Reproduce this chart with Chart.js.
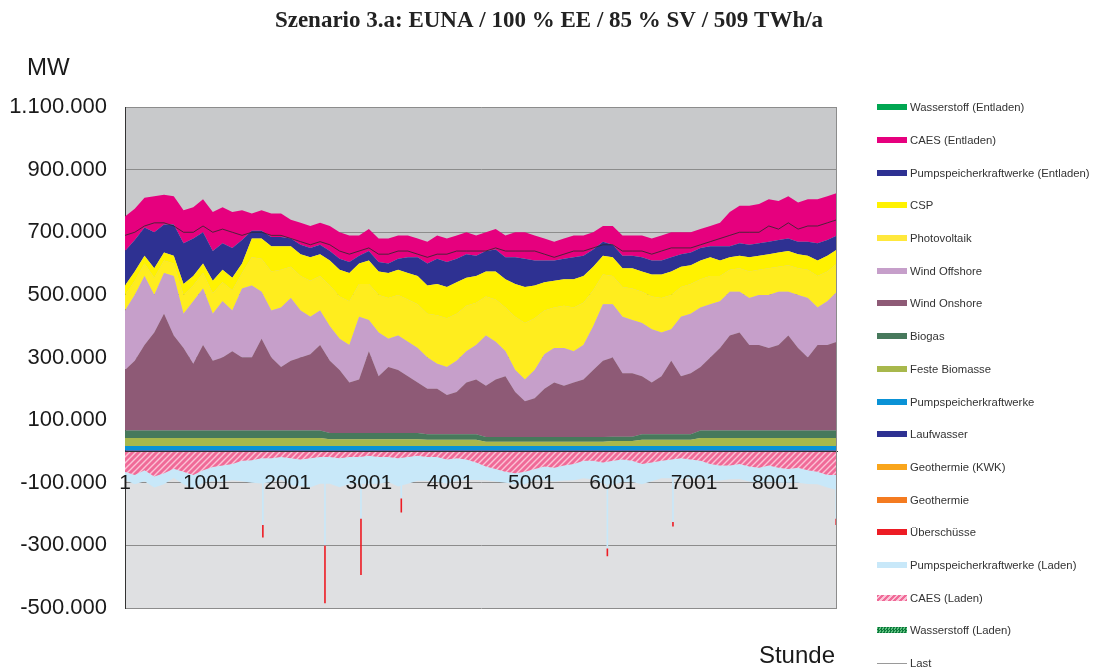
<!DOCTYPE html>
<html lang="de">
<head>
<meta charset="utf-8">
<title>Szenario 3.a</title>
<script src="https://cdn.jsdelivr.net/npm/chart.js@4.4.1/dist/chart.umd.min.js"></script>
<style>
  html, body { margin: 0; padding: 0; background: #fff; }
  #wrap { position: relative; width: 1098px; height: 671px; }
  #legend { position: absolute; left: 877px; top: 91px; font: 11.3px "Liberation Sans", Arial, sans-serif; color: #333; }
  .item { height: 32.7px; display: flex; align-items: center; white-space: nowrap; }
  .swatch { width: 30px; height: 6px; margin-right: 3px; flex: none; }
</style>
</head>
<body>
<div id="wrap">
  <canvas id="chart" width="1098" height="671"></canvas>
  <div id="legend"></div>
</div>
<script>
// hour of the year for each sample (every 120 h)
const hours = [1, 121, 241, 361, 481, 601, 721, 841, 961, 1081, 1201, 1321, 1441, 1561, 1681, 1801, 1921, 2041, 2161, 2281,
  2401, 2521, 2641, 2761, 2881, 3001, 3121, 3241, 3361, 3481, 3601, 3721, 3841, 3961, 4081, 4201, 4321, 4441, 4561, 4681,
  4801, 4921, 5041, 5161, 5281, 5401, 5521, 5641, 5761, 5881, 6001, 6121, 6241, 6361, 6481, 6601, 6721, 6841, 6961, 7081,
  7201, 7321, 7441, 7561, 7681, 7801, 7921, 8041, 8161, 8281, 8401, 8521, 8641, 8760];
const tickHours = [1, 1001, 2001, 3001, 4001, 5001, 6001, 7001, 8001];

// values in 1000 MW
const laufwasser = [3, 3, 3, 3, 3, 3, 3, 3, 3, 3, 3, 3, 3, 3, 3, 3, 3, 3, 3, 3, 3, 3, 3, 3, 3, 3, 3, 3, 3, 3, 3, 3, 3, 3, 3, 3, 3,
  3, 3, 3, 3, 3, 3, 3, 3, 3, 3, 3, 3, 3, 3, 3, 3, 3, 3, 3, 3, 3, 3, 3, 3, 3, 3, 3, 3, 3, 3, 3, 3, 3, 3, 3, 3, 3];
const pumpspeicher = [14, 14, 14, 14, 14, 14, 14, 14, 14, 14, 14, 14, 14, 14, 14, 14, 14, 14, 14, 14, 14, 14, 14, 14, 14, 14,
  14, 14, 14, 14, 14, 14, 14, 14, 14, 14, 14, 14, 14, 14, 14, 14, 14, 14, 14, 14, 14, 14, 14, 14, 14, 14, 14, 14, 14, 14, 14,
  14, 14, 14, 14, 14, 14, 14, 14, 14, 14, 14, 14, 14, 14, 14, 14, 14];
const festeBiomasse = [26, 26, 26, 26, 26, 26, 26, 26, 26, 26, 26, 26, 26, 26, 26, 26, 26, 26, 26, 26, 26, 22, 22, 22, 22, 22,
  22, 22, 22, 22, 22, 20, 20, 20, 20, 20, 20, 14, 14, 14, 14, 14, 14, 14, 14, 14, 14, 14, 14, 14, 16, 16, 16, 20, 20, 20, 20,
  20, 20, 26, 26, 26, 26, 26, 26, 26, 26, 26, 26, 26, 26, 26, 26, 26];
const biogas = [24, 24, 24, 24, 24, 24, 24, 24, 24, 24, 24, 24, 24, 24, 24, 24, 24, 24, 24, 24, 24, 20, 20, 20, 20, 20, 20, 20,
  20, 20, 20, 18, 18, 18, 18, 18, 18, 15, 15, 15, 15, 15, 15, 15, 15, 15, 15, 15, 15, 15, 14, 14, 14, 18, 18, 18, 18, 18, 18,
  24, 24, 24, 24, 24, 24, 24, 24, 24, 24, 24, 24, 24, 24, 24];
const windOnshore = [193, 223, 273, 313, 373, 303, 263, 213, 273, 223, 233, 253, 233, 233, 293, 233, 203, 223, 233, 243, 273,
  231, 201, 161, 171, 261, 181, 211, 201, 181, 161, 145, 145, 125, 135, 165, 175, 164, 184, 194, 144, 114, 124, 154, 174, 164,
  174, 184, 214, 244, 253, 203, 203, 185, 165, 185, 235, 185, 195, 203, 233, 263, 303, 313, 273, 273, 263, 273, 303, 263, 233,
  273, 273, 283];
const windOffshore = [190, 210, 220, 120, 130, 190, 110, 200, 180, 150, 180, 130, 220, 230, 150, 150, 190, 200, 150, 120, 110,
  110, 100, 120, 200, 100, 140, 90, 110, 110, 110, 100, 80, 90, 100, 100, 110, 160, 120, 80, 70, 70, 90, 110, 110, 120, 100,
  110, 140, 180, 170, 180, 170, 170, 170, 140, 100, 190, 190, 190, 170, 150, 140, 130, 150, 160, 170, 170, 140, 170, 190, 120,
  140, 160];
const photovoltaik = [50, 45, 40, 55, 40, 40, 60, 50, 50, 65, 60, 65, 50, 90, 105, 125, 120, 100, 110, 115, 110, 130, 135, 140,
  105, 115, 120, 130, 130, 135, 140, 140, 155, 155, 150, 145, 135, 125, 135, 140, 170, 180, 165, 140, 130, 135, 140, 135, 115,
  95, 90, 95, 100, 100, 105, 110, 110, 95, 95, 90, 90, 80, 70, 75, 85, 80, 85, 80, 85, 85, 90, 100, 95, 90];
const csp = [30, 30, 25, 30, 25, 25, 35, 30, 30, 40, 40, 40, 30, 60, 65, 80, 75, 65, 70, 75, 70, 80, 85, 90, 65, 75, 75, 80, 80,
  85, 90, 90, 100, 100, 100, 90, 85, 80, 90, 90, 105, 115, 105, 90, 85, 85, 90, 85, 75, 60, 60, 60, 65, 65, 70, 75, 75, 65, 60,
  60, 60, 50, 40, 40, 45, 45, 45, 45, 45, 45, 45, 50, 50, 45];
const pswEntladen = [110, 100, 90, 115, 90, 100, 130, 120, 100, 95, 85, 95, 75, 25, 25, 30, 30, 25, 30, 30, 30, 30, 35, 35, 25,
  30, 30, 30, 35, 50, 60, 70, 80, 80, 75, 75, 65, 65, 70, 70, 85, 90, 80, 70, 65, 65, 70, 65, 55, 45, 40, 40, 40, 45, 45, 45, 45,
  40, 40, 40, 35, 45, 35, 40, 40, 40, 40, 40, 40, 40, 45, 55, 50, 45];
const caesEntladen = [110, 100, 95, 115, 95, 90, 105, 100, 105, 125, 115, 115, 95, 55, 65, 75, 75, 60, 70, 70, 70, 80, 85, 85,
  65, 70, 75, 80, 75, 70, 60, 70, 75, 75, 75, 70, 65, 60, 65, 70, 80, 85, 80, 70, 60, 65, 70, 65, 55, 50, 60, 65, 65, 70, 70, 80,
  80, 70, 65, 60, 65, 75, 110, 120, 125, 125, 135, 125, 135, 125, 135, 140, 140, 135];
const caesLaden = [-65, -75, -60, -80, -70, -55, -65, -75, -60, -50, -45, -40, -30, -28, -22, -22, -18, -22, -26, -22, -18, -18,
  -22, -18, -18, -14, -18, -18, -22, -18, -14, -18, -18, -26, -22, -26, -35, -48, -56, -65, -70, -65, -56, -48, -52, -45, -40,
  -30, -30, -35, -30, -26, -30, -40, -35, -30, -26, -22, -26, -30, -40, -45, -45, -40, -48, -52, -45, -52, -56, -52, -60, -65,
  -75, -75];
const pswLaden = [-26, -30, -35, -35, -35, -30, -40, -45, -40, -45, -52, -52, -65, -72, -80, -76, -72, -85, -85, -92, -85, -85,
  -92, -85, -85, -90, -85, -80, -90, -85, -80, -76, -80, -76, -72, -65, -56, -44, -40, -35, -35, -40, -35, -44, -44, -48, -52,
  -56, -60, -68, -76, -72, -68, -65, -60, -56, -60, -65, -60, -56, -52, -48, -44, -48, -48, -48, -52, -48, -44, -48, -44, -40,
  -40, -48];
const last = [690, 700, 720, 730, 730, 720, 700, 700, 720, 700, 710, 700, 690, 700, 700, 690, 690, 680, 670, 660, 670, 660, 640,
  630, 640, 650, 630, 630, 640, 640, 630, 620, 630, 630, 640, 640, 640, 640, 650, 640, 640, 640, 640, 630, 620, 630, 640, 640,
  650, 660, 660, 640, 640, 640, 630, 640, 650, 650, 650, 660, 670, 680, 690, 700, 700, 700, 720, 710, 730, 710, 720, 720, 730, 740];

// single hours with surplus: end of pumped-storage charging and end of surplus
const surplusHours = [1697, 2461, 2904, 3400, 5935, 6742, 8750];
const surplusFrom = [-235, -300, -215, -150, -310, -225, -215];
const surplusTo = [-275, -485, -395, -195, -335, -240, -235];

const MW = v => v * 1000;
const toSeries = arr => arr.map(MW);

function spikes(fromArr, toArr) {
  const pts = [];
  surplusHours.forEach((h, i) => {
    pts.push({x: h, y: MW(fromArr[i])}, {x: h, y: MW(toArr[i])}, {x: h, y: null});
  });
  return pts;
}

const ctx = document.getElementById('chart').getContext('2d');

function stripePattern(bg, fg) {
  const c = document.createElement('canvas');
  c.width = 6; c.height = 6;
  const g = c.getContext('2d');
  g.fillStyle = bg; g.fillRect(0, 0, 6, 6);
  g.strokeStyle = fg; g.lineWidth = 1.4;
  g.beginPath();
  g.moveTo(0, 6); g.lineTo(6, 0);
  g.moveTo(-1, 1); g.lineTo(1, -1);
  g.moveTo(5, 7); g.lineTo(7, 5);
  g.stroke();
  return ctx.createPattern(c, 'repeat');
}

const colors = {
  geoKwk: '#f9a51b', geo: '#f47b20', lauf: '#2e3192', psw: '#0a92d6', biomasse: '#a8b84c', biogas: '#47795c',
  onshore: '#8e5a76', offshore: '#c69fca', pv: '#ffed1e', csp: '#fff200', pswE: '#2e3192', caesE: '#e6007e',
  h2E: '#00a651', h2L: '#0b7a3b', caesL: '#f06a98', pswL: '#c8e8f9', surplus: '#ed1c24', last: '#2a2a2a'
};

function area(label, data, color, fill) {
  return { label, data, backgroundColor: color, borderWidth: 0, pointRadius: 0, fill, stack: 'energy', tension: 0 };
}

const datasets = [
  area('Geothermie', [], colors.geo, 'origin'),
  area('Geothermie (KWK)', [], colors.geoKwk, 'origin'),
  area('Laufwasser', toSeries(laufwasser), colors.lauf, 'origin'),
  area('Pumpspeicherkraftwerke', toSeries(pumpspeicher), colors.psw, '-1'),
  area('Feste Biomasse', toSeries(festeBiomasse), colors.biomasse, '-1'),
  area('Biogas', toSeries(biogas), colors.biogas, '-1'),
  area('Wind Onshore', toSeries(windOnshore), colors.onshore, '-1'),
  area('Wind Offshore', toSeries(windOffshore), colors.offshore, '-1'),
  area('Photovoltaik', toSeries(photovoltaik), colors.pv, '-1'),
  area('CSP', toSeries(csp), colors.csp, '-1'),
  area('Pumpspeicherkraftwerke (Entladen)', toSeries(pswEntladen), colors.pswE, '-1'),
  area('CAES (Entladen)', toSeries(caesEntladen), colors.caesE, '-1'),
  area('Wasserstoff (Entladen)', [], colors.h2E, '-1'),
  area('Wasserstoff (Laden)', [], colors.h2L, 'origin'),
  area('CAES (Laden)', toSeries(caesLaden), stripePattern('#f06a98', '#fbc3d6'), 'origin'),
  area('Pumpspeicherkraftwerke (Laden)', toSeries(pswLaden), colors.pswL, '-1'),
  {
    label: 'Überschüsse', data: spikes(surplusFrom, surplusTo), borderColor: colors.surplus, borderWidth: 1.6,
    pointRadius: 0, fill: false, stack: 'surplus', spanGaps: false
  },
  {
    label: 'Pumpspeicherkraftwerke (Laden) Spitzen', data: spikes(surplusFrom.map(() => 0), surplusFrom),
    borderColor: colors.pswL, borderWidth: 1.6, pointRadius: 0, fill: false, stack: 'peaks', spanGaps: false
  },
  {
    label: 'Last', data: toSeries(last), borderColor: colors.last, borderWidth: 0.8, pointRadius: 0,
    fill: false, stack: 'last', order: -1
  }
];

const fmt = v => (v < 0 ? '-' : '') + Math.abs(v).toString().replace(/\B(?=(\d{3})+(?!\d))/g, '.');

const plotFrame = {
  id: 'plotFrame',
  beforeDraw(chart) {
    const { ctx, chartArea: a, scales: { y } } = chart;
    const zero = y.getPixelForValue(0);
    ctx.save();
    ctx.fillStyle = '#c8c9cb';
    ctx.fillRect(a.left, a.top, a.width, zero - a.top);
    ctx.fillStyle = '#dfe0e2';
    ctx.fillRect(a.left, zero, a.width, a.bottom - zero);
    ctx.restore();
  },
  afterDraw(chart) {
    const { ctx, chartArea: a } = chart;
    ctx.save();
    ctx.strokeStyle = '#8c8c8c';
    ctx.lineWidth = 1;
    ctx.beginPath();
    ctx.moveTo(a.right - 0.5, a.top);
    ctx.lineTo(a.right - 0.5, a.bottom);
    ctx.stroke();
    ctx.fillStyle = '#1a1a1a';
    ctx.font = '24px "Liberation Sans", Arial, sans-serif';
    ctx.textBaseline = 'middle';
    ctx.textAlign = 'left';
    ctx.fillText('MW', a.left - 98, a.top - 39);
    ctx.textAlign = 'right';
    ctx.fillText('Stunde', a.right - 2, a.bottom + 48);
    ctx.restore();
  }
};

const chart = new Chart(ctx, {
  type: 'line',
  data: { labels: hours, datasets },
  options: {
    responsive: false,
    animation: false,
    layout: { padding: { left: 0, right: 0, bottom: 63 } },
    plugins: {
      legend: { display: false },
      tooltip: { enabled: false },
      title: {
        display: true,
        text: 'Szenario 3.a: EUNA / 100 % EE / 85 % SV / 509 TWh/a',
        color: '#222',
        font: { family: '"Liberation Serif", "Times New Roman", serif', size: 23, weight: 'bold' },
        padding: { top: 7, bottom: 72.4 }
      }
    },
    scales: {
      x: {
        type: 'linear',
        position: { y: 0 },
        min: 1,
        max: 8760,
        afterBuildTicks: scale => { scale.ticks = tickHours.map(v => ({ value: v })); },
        grid: { display: false, drawTicks: false },
        border: { display: true, color: '#333', width: 1, z: 1 },
        ticks: {
          z: 1,
          callback: v => String(v),
          color: '#1a1a1a',
          font: { family: '"Liberation Sans", Arial, sans-serif', size: 21 },
          padding: 19,
          maxRotation: 0,
          autoSkip: false
        }
      },
      y: {
        stacked: true,
        min: -500000,
        max: 1100000,
        afterFit: scale => { scale.width = 125; },
        grid: { color: '#8c8c8c', lineWidth: 1, drawTicks: false },
        border: { display: true, color: '#333', width: 1 },
        ticks: {
          stepSize: 200000,
          callback: fmt,
          color: '#1a1a1a',
          font: { family: '"Liberation Sans", Arial, sans-serif', size: 22 },
          padding: 18
        }
      },
      // empty axis that keeps the space for the legend on the right
      legendSpace: {
        type: 'linear',
        position: 'right',
        afterFit: scale => { scale.width = 261; },
        grid: { display: false, drawTicks: false },
        border: { display: false },
        ticks: { display: false }
      }
    }
  },
  plugins: [plotFrame]
});

// legend in the order of the original
const legendOrder = ['Wasserstoff (Entladen)', 'CAES (Entladen)', 'Pumpspeicherkraftwerke (Entladen)', 'CSP', 'Photovoltaik',
  'Wind Offshore', 'Wind Onshore', 'Biogas', 'Feste Biomasse', 'Pumpspeicherkraftwerke', 'Laufwasser', 'Geothermie (KWK)',
  'Geothermie', 'Überschüsse', 'Pumpspeicherkraftwerke (Laden)', 'CAES (Laden)', 'Wasserstoff (Laden)', 'Last'];
const swatchStyle = {
  'Photovoltaik': 'background: #ffe83c;',
  'CAES (Laden)': 'background: repeating-linear-gradient(-45deg, #f06a98 0 2px, #fbc3d6 2px 4px);',
  'Wasserstoff (Laden)': 'background: repeating-conic-gradient(#0b7a3b 0 25%, #5fbf7f 0 50%) 0 0 / 3px 3px;',
  'Überschüsse': 'background: ' + colors.surplus + ';',
  'Last': 'background: #9a9a9a; height: 1px;'
};
const legendEl = document.getElementById('legend');
legendOrder.forEach(label => {
  const ds = chart.data.datasets.find(d => d.label === label);
  const style = swatchStyle[label] || ('background: ' + ds.backgroundColor + ';');
  const item = document.createElement('div');
  item.className = 'item';
  item.innerHTML = '<span class="swatch" style="' + style + '"></span><span>' + label + '</span>';
  legendEl.appendChild(item);
});
</script>
</body>
</html>
